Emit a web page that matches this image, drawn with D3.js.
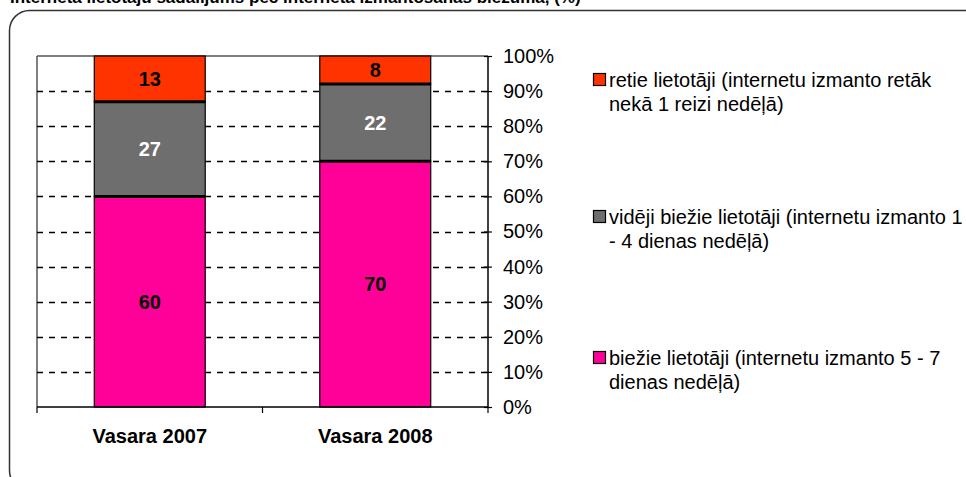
<!DOCTYPE html>
<html>
<head>
<meta charset="utf-8">
<script src="https://cdn.jsdelivr.net/npm/d3@7"></script>
<style>
  html, body { margin: 0; padding: 0; background: #fff; }
  svg { display: block; }
  text { font-family: "Liberation Sans", Arial, sans-serif; }
</style>
</head>
<body>
<svg id="chart" width="966" height="477"></svg>
<script>
const title = "Interneta lietotāju sadalījums pēc interneta izmantošanas biežuma, (%)";
const categories = ["Vasara 2007", "Vasara 2008"];
const seriesNames = [
  ["biežie lietotāji (internetu izmanto 5 - 7", "dienas nedēļā)"],
  ["vidēji biežie lietotāji (internetu izmanto 1", "- 4 dienas nedēļā)"],
  ["retie lietotāji (internetu izmanto retāk", "nekā 1 reizi nedēļā)"]
];
const frequent = [60, 70];
const medium = [27, 22];
const rare = [13, 8];
const yTicks = [0, 10, 20, 30, 40, 50, 60, 70, 80, 90, 100];

const colors = ["#FF0099", "#6E6E6E", "#FF3300"];
const labelColors = ["#000", "#fff", "#000"];

const svg = d3.select("#chart");
const L = 37, R = 488, T = 56, B = 407;

const y = d3.scaleLinear().domain([0, 100]).range([B, T]);
const x = d3.scaleBand().domain(categories).range([L, R]).paddingInner(0.508).paddingOuter(0.254);
const xEdges = d3.scaleBand().domain(categories).range([L, R]).padding(0);

// title (cut off at top, as in the reference)
svg.append("text").attr("x", 10).attr("y", 3)
  .attr("font-weight", "bold").attr("font-size", 17).attr("fill", "#000")
  .text(title);

// outer rounded frame
svg.append("rect").attr("x", 9.5).attr("y", 10.5).attr("width", 1000).attr("height", 480)
  .attr("rx", 20).attr("fill", "none").attr("stroke", "#333").attr("stroke-width", 1.5);

// plot border (top, left)
svg.append("line").attr("x1", L).attr("x2", R).attr("y1", T).attr("y2", T)
  .attr("stroke", "#555").attr("stroke-width", 1.5);
svg.append("line").attr("x1", L).attr("x2", L).attr("y1", T).attr("y2", B)
  .attr("stroke", "#555").attr("stroke-width", 1.5);

// gridlines
svg.append("g").selectAll("line").data(yTicks.filter(d => d > 0 && d < 100)).join("line")
  .attr("x1", L).attr("x2", R).attr("y1", d => Math.round(y(d)) + 0.5).attr("y2", d => Math.round(y(d)) + 0.5)
  .attr("stroke", "#000").attr("stroke-width", 1.4).attr("stroke-dasharray", "6,6");

// stacked data
const table = categories.map((c, i) => ({ cat: c, s0: frequent[i], s1: medium[i], s2: rare[i] }));
const stack = d3.stack().keys(["s0", "s1", "s2"])(table);

const gBars = svg.append("g");
stack.forEach((layer, li) => {
  gBars.selectAll(null).data(layer).join("rect")
    .attr("x", d => x(d.data.cat))
    .attr("width", x.bandwidth())
    .attr("y", d => y(d[1]))
    .attr("height", d => y(d[0]) - y(d[1]))
    .attr("fill", colors[li])
    .attr("stroke", "#000").attr("stroke-width", 1.2);
});
// thicker segment boundaries
stack.slice(0, 2).forEach(layer => {
  gBars.selectAll(null).data(layer).join("line")
    .attr("x1", d => x(d.data.cat)).attr("x2", d => x(d.data.cat) + x.bandwidth())
    .attr("y1", d => y(d[1])).attr("y2", d => y(d[1]))
    .attr("stroke", "#000").attr("stroke-width", 3);
});
// labels
stack.forEach((layer, li) => {
  gBars.selectAll(null).data(layer).join("text")
    .attr("x", d => x(d.data.cat) + x.bandwidth() / 2)
    .attr("y", d => (y(d[0]) + y(d[1])) / 2 + 7)
    .attr("text-anchor", "middle")
    .attr("font-weight", "bold").attr("font-size", 20)
    .attr("fill", labelColors[li])
    .text(d => d[1] - d[0]);
});

// right axis
const yAxis = svg.append("g").attr("transform", `translate(${R},0)`)
  .call(d3.axisRight(y).tickValues(yTicks).tickFormat(d => d + "%").tickSize(4).tickPadding(11));
yAxis.select(".domain").attr("stroke", "#000").attr("stroke-width", 1.5).attr("d", `M0,${T}V${B}`);
yAxis.selectAll(".tick line").attr("x1", -4).attr("x2", 4).attr("stroke", "#000").attr("stroke-width", 1.2);
yAxis.selectAll(".tick text").attr("font-size", 20).attr("fill", "#000")
  .attr("font-family", "Liberation Sans, Arial, sans-serif");

// bottom axis
svg.append("line").attr("x1", L).attr("x2", R).attr("y1", B).attr("y2", B)
  .attr("stroke", "#000").attr("stroke-width", 1.5);
const edges = categories.map(c => xEdges(c)).concat([R]);
svg.append("g").selectAll("line").data(edges).join("line")
  .attr("x1", d => d).attr("x2", d => d).attr("y1", B).attr("y2", B + 6)
  .attr("stroke", "#000").attr("stroke-width", 1.2);
svg.append("g").selectAll("text").data(categories).join("text")
  .attr("x", d => x(d) + x.bandwidth() / 2).attr("y", 443)
  .attr("text-anchor", "middle").attr("font-weight", "bold").attr("font-size", 20)
  .attr("fill", "#000").text(d => d);

// legend (top to bottom: rare, medium, frequent)
const legendOrder = [2, 1, 0];
const legendY = [80, 217, 358];
const lg = svg.append("g");
legendOrder.forEach((si, k) => {
  const cy = legendY[k];
  lg.append("rect").attr("x", 593.5).attr("y", cy - 6.5).attr("width", 12).attr("height", 12)
    .attr("fill", colors[si]).attr("stroke", "#000").attr("stroke-width", 1.2);
  seriesNames[si].forEach((line, j) => {
    lg.append("text").attr("x", 609).attr("y", cy + 7 + j * 24)
      .attr("font-size", 20).attr("fill", "#000").text(line);
  });
});
</script>
</body>
</html>
